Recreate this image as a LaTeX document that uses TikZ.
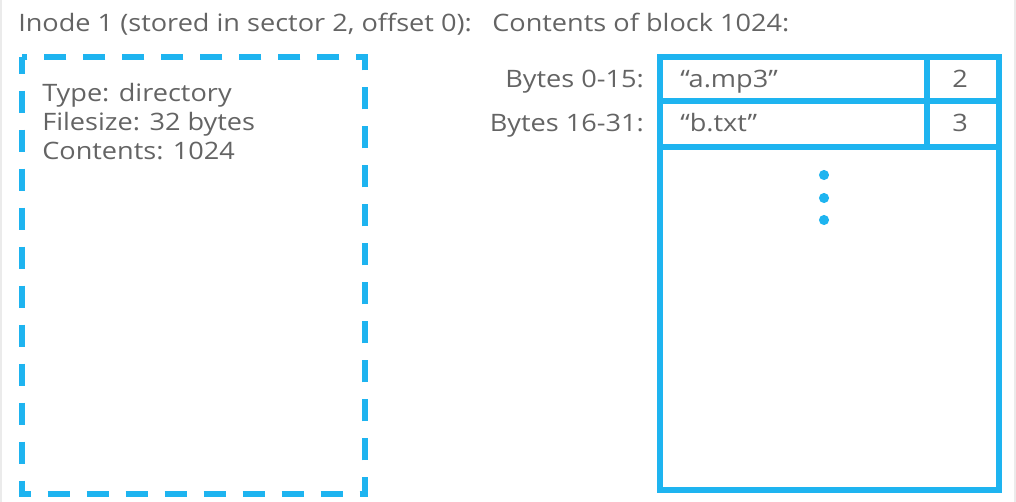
\documentclass[tikz,border=0pt]{standalone}
\usepackage{fontspec}
\setmainfont{Open Sans}[FakeStretch=1.13]
\definecolor{lineblue}{RGB}{30,180,240}
\definecolor{textgray}{RGB}{100,100,100}
\tikzset{
  txt/.style={text=textgray, font=\fontsize{18}{22}\selectfont, inner sep=0pt},
  frameline/.style={draw=lineblue, line width=4.5pt},
}
\begin{document}
\begin{tikzpicture}[x=0.75pt,y=-0.75pt]
\useasboundingbox (0,0) rectangle (1016,502);
\draw[black!8, line width=1.5pt] (1,0)--(1,502) (1015,0)--(1015,502);
% titles
\node[txt, anchor=base west] (inodetitle) at (18,32) {Inode 1 (stored in sector 2, offset 0):};
\node[txt, anchor=base west] (blocktitle) at (492,32) {Contents of block 1024:};
% inode box
\draw[frameline, dash pattern=on 16.5pt off 12.75pt, dash phase=4pt] (22,57) rectangle (365,494);
\node[txt, anchor=base west] (type) at (42,102) {Type: directory};
\node[txt, anchor=base west] (size) at (42,131) {Filesize: 32 bytes};
\node[txt, anchor=base west] (contents) at (42,160) {Contents: 1024};
% block 1024
\draw[frameline] (660,57) rectangle (999,490);
\draw[frameline] (660,101)--(999,101);
\draw[frameline] (660,147)--(999,147);
\draw[frameline] (927,57)--(927,147);
\node[txt, anchor=base east] (bytesa) at (644,88) {Bytes 0-15:};
\node[txt, anchor=base east] (bytesb) at (644,132) {Bytes 16-31:};
\node[txt, anchor=base west] (namea) at (680,88) {“a.mp3”};
\node[txt, anchor=base west] (nameb) at (680,132) {“b.txt”};
\node[txt, anchor=base] (inuma) at (960,88) {2};
\node[txt, anchor=base] (inumb) at (960,132) {3};
\foreach \y in {175,198,220}
  \fill[lineblue] (824,\y) circle (3.8pt);
\end{tikzpicture}
\end{document}
